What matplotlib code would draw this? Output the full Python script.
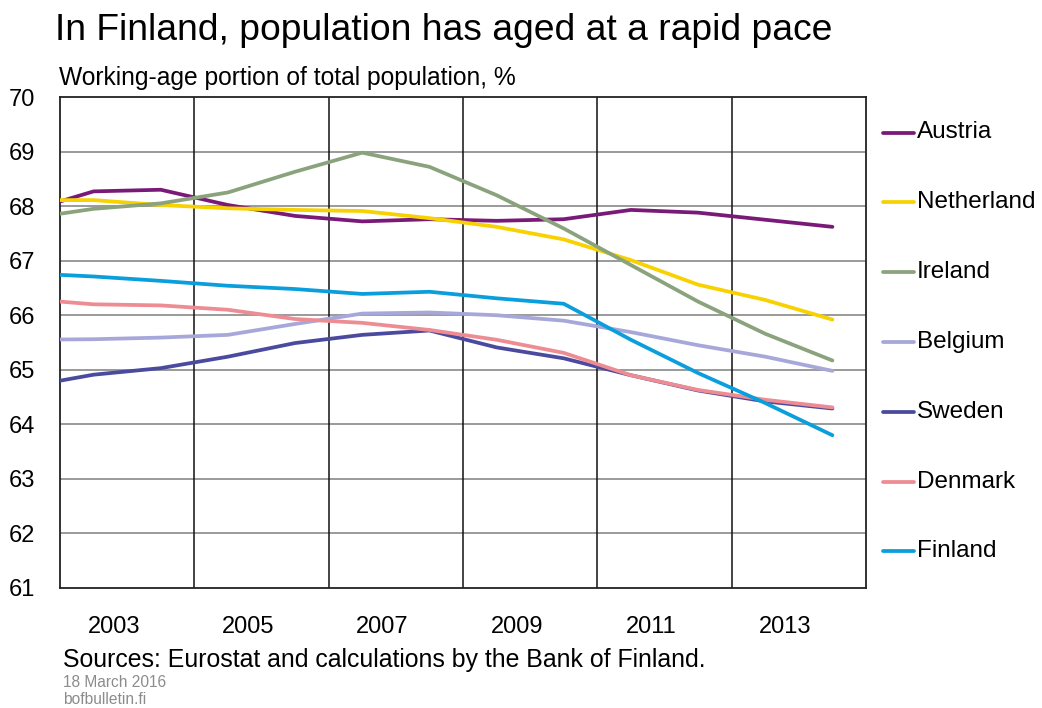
import numpy as np
import matplotlib
matplotlib.use("Agg")
import matplotlib.pyplot as plt
import matplotlib.transforms as mtransforms
from matplotlib.lines import Line2D

plt.rcParams['font.family'] = ['Liberation Sans', 'DejaVu Sans']

# Annual observations (plotted at mid-year)
years = np.arange(2001, 2014)
austria = [67.90, 68.27, 68.30, 68.02, 67.82, 67.72, 67.76, 67.73, 67.76, 67.93, 67.88, 67.75, 67.62]
netherland = [68.11, 68.11, 68.02, 67.96, 67.93, 67.91, 67.78, 67.62, 67.39, 67.01, 66.56, 66.28, 65.92]
ireland = [67.77, 67.95, 68.05, 68.25, 68.63, 68.98, 68.72, 68.20, 67.59, 66.92, 66.25, 65.66, 65.17]
belgium = [65.55, 65.56, 65.59, 65.64, 65.84, 66.03, 66.05, 66.00, 65.90, 65.69, 65.45, 65.24, 64.98]
sweden = [64.69, 64.91, 65.03, 65.24, 65.49, 65.64, 65.72, 65.41, 65.21, 64.90, 64.62, 64.42, 64.29]
denmark = [66.30, 66.20, 66.18, 66.10, 65.93, 65.86, 65.73, 65.55, 65.31, 64.90, 64.63, 64.45, 64.31]
finland = [66.77, 66.71, 66.63, 66.54, 66.48, 66.39, 66.43, 66.31, 66.21, 65.55, 64.94, 64.39, 63.80]

names = ["Austria", "Netherland", "Ireland", "Belgium", "Sweden", "Denmark", "Finland"]
series = [austria, netherland, ireland, belgium, sweden, denmark, finland]
colors = ["#7A1A78", "#F7D200", "#8AA37C", "#A7A7D9", "#4A4A9E", "#EE8C93", "#0A9FDC"]

xtick_years = [2003, 2005, 2007, 2009, 2011, 2013]
grid_years = [2004, 2006, 2008, 2010, 2012]
yticks = list(range(61, 71))

fig = plt.figure(figsize=(10.42, 7.08), dpi=100)
ax = fig.add_axes([60/1042, 1 - 588/708, (866-60)/1042, (588-97)/708])

x = years + 0.5
for s, c in zip(series, colors):
    ax.plot(x, s, color=c, lw=2.7, solid_capstyle='round', solid_joinstyle='round', zorder=3)

ax.set_xlim(2002, 2014)
ax.set_ylim(61, 70)
ax.set_yticks(yticks)
ax.set_xticks(xtick_years)
ax.tick_params(axis='both', length=0, labelsize=17)
ax.tick_params(axis='y', pad=18)
ax.tick_params(axis='x', pad=20)

# x labels sit slightly left of the year position, as in the original
shift = mtransforms.ScaledTranslation(-13.5/100, 0, fig.dpi_scale_trans)
for lbl in ax.get_xticklabels():
    lbl.set_transform(lbl.get_transform() + shift)

for yv in yticks[1:-1]:
    ax.axhline(yv, color='#7f7f7f', lw=1.1, zorder=1)
for gx in grid_years:
    ax.axvline(gx, color='#111111', lw=1.1, zorder=1)
for sp in ax.spines.values():
    sp.set_color('#222222')
    sp.set_linewidth(1.3)

# Legend on the right
for i, (n, c) in enumerate(zip(names, colors)):
    yy = (588 - (132.5 + i * 69.8)) / 491
    ax.add_artist(Line2D([1.0205, 1.060], [yy, yy], transform=ax.transAxes,
                         color=c, lw=2.7, clip_on=False, solid_capstyle='round'))
    ax.text(1.0635, yy, n, transform=ax.transAxes, fontsize=17.5, va='center', ha='left')

fig.text(55/1042, 1 - 40/708, "In Finland, population has aged at a rapid pace",
         fontsize=26.8, va='baseline', ha='left')
fig.text(59/1042, 1 - 85/708, "Working-age portion of total population, %",
         fontsize=17.7, va='baseline', ha='left')
fig.text(63/1042, 1 - 667/708, "Sources: Eurostat and calculations by the Bank of Finland.",
         fontsize=17.9, va='baseline', ha='left')
fig.text(63/1042, 1 - 687/708, "18 March 2016", fontsize=11.2, color='#8c8c8c', va='baseline', ha='left')
fig.text(63/1042, 1 - 704/708, "bofbulletin.fi", fontsize=11.2, color='#8c8c8c', va='baseline', ha='left')

fig.savefig("out.png", dpi=100, facecolor='white')
